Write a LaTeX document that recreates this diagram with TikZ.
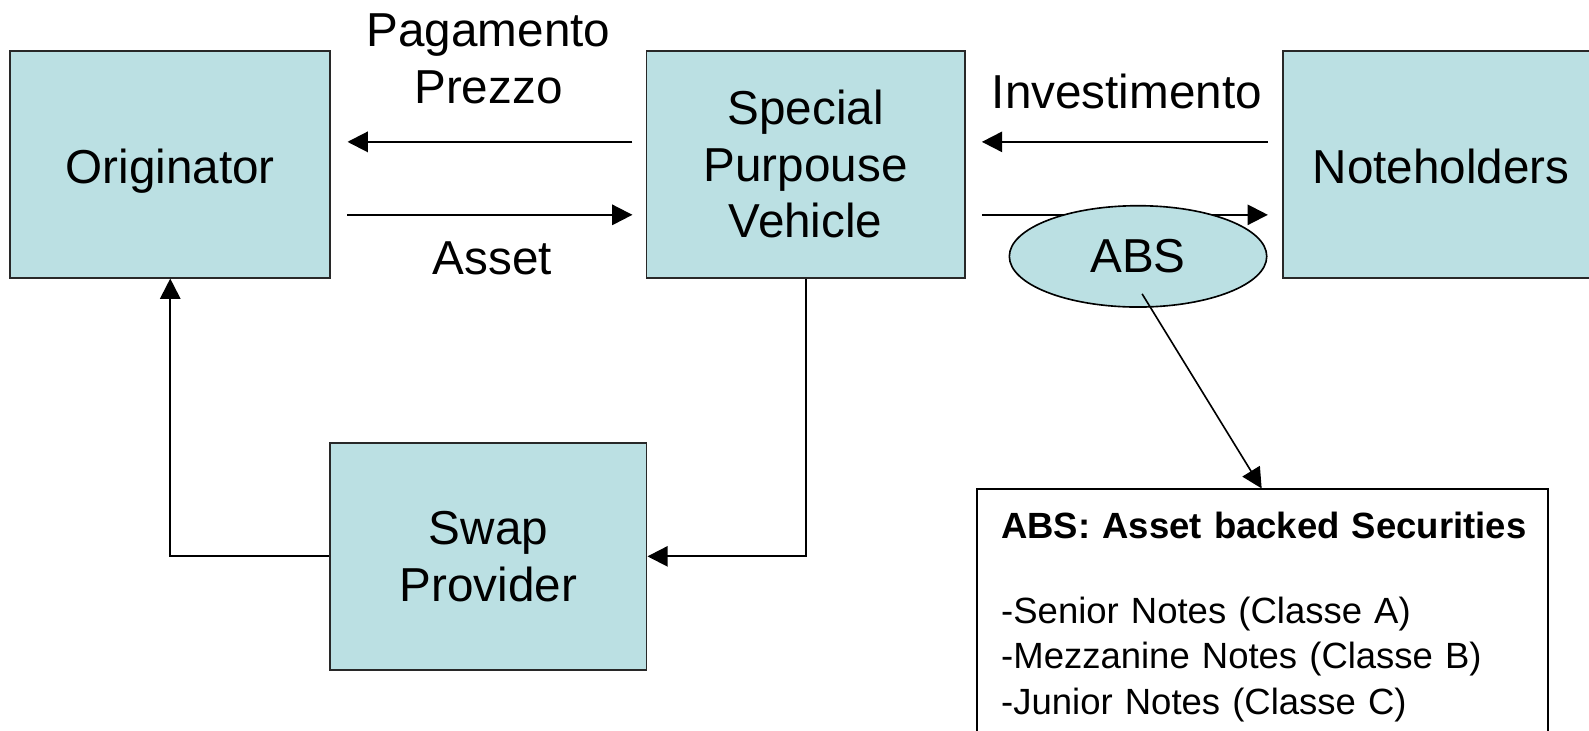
\documentclass[tikz,border=0pt]{standalone}
\usepackage{fontspec}
\setmainfont{Liberation Sans}
\usetikzlibrary{arrows.meta,shapes.geometric}
\definecolor{boxfill}{RGB}{187,224,227}
\definecolor{boxline}{RGB}{40,40,40}
\tikzset{
  bigtxt/.style={font=\fontsize{23.5}{28}\selectfont, align=center},
  entity/.style={draw=boxline, line width=0.9pt, fill=boxfill, rectangle, inner sep=0pt, bigtxt},
  arr/.style={-{Triangle[length=10pt,width=10pt]}, line width=1pt},
  lbl/.style={bigtxt, inner sep=0pt},
}
\begin{document}
\begin{tikzpicture}[x=0.5pt,y=-0.5pt]
\useasboundingbox (0,0) rectangle (1568,720.4);
\clip (0,0) rectangle (1568,720.4);
\fill[white] (0,0) rectangle (1568,720.4);
% boxes
\node[entity, minimum width=158pt, minimum height=112pt, text height=19pt, text depth=0pt] (orig) at (168,162) {Originator};
\node[entity, minimum width=157pt, minimum height=112pt] (spv) at (795,162) {Special\\Purpouse\\Vehicle};
\node[entity, minimum width=167pt, minimum height=112pt] (noteh) at (1433,162) {};
\node[lbl] (notehtxt) at (1422,164) {Noteholders};
\node[entity, minimum width=156pt, minimum height=112pt] (swap) at (482,549) {Swap\\Provider};
% labels
\node[lbl] (pag) at (482,58) {Pagamento\\Prezzo};
\node[lbl] (asset) at (486,255) {Asset};
\node[lbl] (inv) at (1112,90) {Investimento};
% arrows between top boxes
\draw[arr] ([xshift=-6.5pt,yshift=11pt]spv.west) -- ([xshift=8pt,yshift=11pt]orig.east);
\draw[arr] ([xshift=8pt,yshift=-25pt]orig.east) -- ([xshift=-6.5pt,yshift=-25pt]spv.west);
\draw[arr] ([xshift=-7pt,yshift=11pt]noteh.west) -- ([xshift=8pt,yshift=11pt]spv.east);
\draw[arr] ([xshift=8pt,yshift=-25pt]spv.east) -- ([xshift=-7pt,yshift=-25pt]noteh.west);
% ABS ellipse
\node[ellipse, draw=black, line width=0.8pt, fill=boxfill, minimum width=127pt, minimum height=50pt, inner sep=0pt, bigtxt] (abs) at (1123,253) {ABS};
% swap connectors
\draw[arr] (spv.south) |- (swap.east);
\draw[arr] (swap.west) -| (orig.south);
% note box
\node[draw=black, line width=1pt, fill=white, anchor=north west, inner xsep=12pt, inner ysep=11pt, text width=258pt, align=left, font=\fontsize{18}{22.5}\selectfont] (note) at (963,482)
 {\mbox{\textbf{ABS: Asset backed Securities}}\\[19.5pt]-Senior Notes (Classe A)\\-Mezzanine Notes (Classe B)\\-Junior Notes (Classe C)};
\coordinate (absfoot) at (1127,290);
\coordinate (notetop) at ([xshift=141pt]note.north west);
\draw[arr, line width=0.8pt] (absfoot) -- (notetop);
\end{tikzpicture}
\end{document}
